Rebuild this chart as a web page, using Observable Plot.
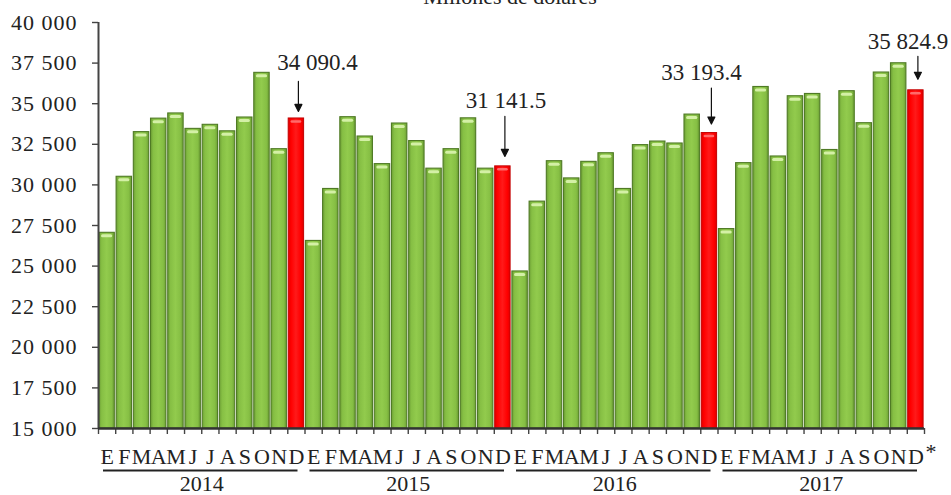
<!DOCTYPE html>
<html>
<head>
<meta charset="utf-8">
<script src="https://cdn.jsdelivr.net/npm/d3@7"></script>
<script src="https://cdn.jsdelivr.net/npm/@observablehq/plot@0.6"></script>
<style>
  html, body { margin: 0; padding: 0; background: #fff; overflow: hidden; }
  #wrap { position: relative; width: 951px; height: 495px; }
  #title { position: absolute; top: -14px; left: 510px; transform: translateX(-50%);
           font-family: "Liberation Serif", "DejaVu Serif", serif; font-size: 22px; line-height: 22px;
           color: #222; white-space: nowrap; z-index: 2; }
  g[aria-label="y-axis tick label"] text { letter-spacing: 1px; }
</style>
</head>
<body>
<div id="wrap"><div id="title">Millones de dólares</div><div id="chart"></div></div>
<script>
const months = ["E","F","M","A","M","J","J","A","S","O","N","D"];
const years = ["2014","2015","2016","2017"];
const values2014 = [27050, 30500, 33250, 34080, 34400, 33450, 33700, 33300, 34150, 36900, 32200, 34090.4];
const values2015 = [26550, 29750, 34170, 32980, 31280, 33780, 32700, 31000, 32200, 34100, 31000, 31141.5];
const values2016 = [24670, 28970, 31460, 30400, 31420, 31950, 29750, 32450, 32670, 32550, 34330, 33193.4];
const values2017 = [27280, 31340, 36030, 31750, 35460, 35600, 32150, 35770, 33800, 36920, 37490, 35824.9];
const yTicks = [15000, 17500, 20000, 22500, 25000, 27500, 30000, 32500, 35000, 37500, 40000];
const footnoteMark = "*";

const series = [values2014, values2015, values2016, values2017];
const rows = [];
series.forEach((vals, yi) => vals.forEach((v, mi) => rows.push({
  i: yi * 12 + mi, year: years[yi], month: months[mi], value: v, red: mi === 11
})));
const yearRows = years.map((y, k) => ({year: y, start: k * 12, end: k * 12 + 12}));

// annotation placement (pixels): label dx, label gap above bar, arrow length, arrow tip gap
const annLayout = [
  {dx: 21, gap: 48, len: 30, tip: 7},
  {dx: 3, gap: 58, len: 40, tip: 10},
  {dx: -8, gap: 53, len: 36, tip: 9},
  {dx: -8, gap: 41, len: 23, tip: 11}
];
const reds = rows.filter(d => d.red);

const loc = d3.formatLocale({decimal: ".", thousands: " ", grouping: [3], currency: ["", ""]});
const fmtInt = loc.format(",");
const fmt1 = loc.format(",.1f");

const arrowShape = {
  draw(ctx, l) {
    ctx.moveTo(0, 0);
    ctx.lineTo(0, -l + 6);
    ctx.moveTo(-3.5, -l + 7);
    ctx.lineTo(0, -l);
    ctx.lineTo(3.5, -l + 7);
    ctx.closePath();
  }
};

const base = 15000;
const annMarks = [];
reds.forEach((d, k) => {
  const L = annLayout[k];
  annMarks.push(Plot.text([d], {x: r => r.i + 0.5, y: "value", text: r => fmt1(r.value),
    dx: L.dx, dy: -L.gap, lineAnchor: "bottom", fontSize: 23, fill: "#222"}));
  annMarks.push(Plot.vector([d], {x: r => r.i + 0.5, y: "value", length: L.len, rotate: 180,
    anchor: "end", shape: arrowShape, dx: 2, dy: -L.tip, stroke: "#111", fill: "#111", strokeWidth: 1.2}));
});

const plot = Plot.plot({
  width: 951,
  height: 495,
  marginLeft: 98,
  marginRight: 27,
  marginTop: 22,
  marginBottom: 67,
  style: {fontFamily: "'Liberation Serif', 'DejaVu Serif', serif", fontSize: "22px", color: "#222", background: "#fff"},
  x: {type: "linear", domain: [0, 48]},
  y: {domain: [15000, 40000]},
  marks: [
    Plot.rectY(rows.filter(d => !d.red), {x1: "i", x2: d => d.i + 1, y1: () => base, y2: "value",
      insetLeft: 0.9, insetRight: 0.9, fill: "url(#gGreen)", stroke: "#4f7a25", strokeWidth: 1.1}),
    Plot.rectY(rows.filter(d => d.red), {x1: "i", x2: d => d.i + 1, y1: () => base, y2: "value",
      insetLeft: 0.9, insetRight: 0.9, fill: "url(#gRed)", stroke: "#c40000", strokeWidth: 1}),
    Plot.ruleY(rows.filter(d => !d.red), {y: "value", x1: "i", x2: d => d.i + 1, insetLeft: 4.5, insetRight: 4.5,
      dy: 3, stroke: "#d4f0a6", strokeWidth: 3, strokeLinecap: "round"}),
    Plot.ruleY(rows.filter(d => d.red), {y: "value", x1: "i", x2: d => d.i + 1, insetLeft: 4.5, insetRight: 4.5,
      dy: 3, stroke: "#ff6a6a", strokeWidth: 2.5, strokeLinecap: "round"}),
    Plot.axisY({ticks: yTicks, tickFormat: fmtInt, tickSize: 6, tickPadding: 15, label: null,
      stroke: "#444", strokeWidth: 1.4}),
    Plot.axisX({ticks: d3.range(49), tickFormat: () => "", tickSize: 6, label: null,
      stroke: "#444", strokeWidth: 1.4}),
    Plot.ruleX([0], {stroke: "#444", strokeWidth: 2}),
    Plot.ruleY([base], {stroke: "#333", strokeWidth: 2.5}),
    Plot.text(rows, {x: d => d.i + 0.5, y: () => base, text: "month", dy: 35, lineAnchor: "bottom", fill: "#222"}),
    Plot.text([footnoteMark], {x: () => 48, y: () => base, text: d => d, dx: 1, dy: 30,
      textAnchor: "start", lineAnchor: "bottom", fill: "#222"}),
    Plot.ruleY(yearRows, {y: () => base, x1: "start", x2: "end", insetLeft: 5, insetRight: 7, dy: 42,
      stroke: "#222", strokeWidth: 2}),
    Plot.text(yearRows, {x: d => d.start + 6, y: () => base, text: "year", dy: 62, lineAnchor: "bottom", fill: "#222"}),
    ...annMarks
  ]
});

const svg = d3.select(plot.tagName.toLowerCase() === "svg" ? plot : plot.querySelector("svg"));
const defs = svg.insert("defs", ":first-child");
function grad(id, stops) {
  const g = defs.append("linearGradient").attr("id", id).attr("x1", "0").attr("x2", "1").attr("y1", "0").attr("y2", "0");
  stops.forEach(([o, c]) => g.append("stop").attr("offset", o).attr("stop-color", c));
}
grad("gGreen", [[0, "#6d9f35"], [0.18, "#86bf44"], [0.5, "#92cb4d"], [0.82, "#86bf44"], [1, "#6d9f35"]]);
grad("gRed", [[0, "#dd0000"], [0.18, "#ff0000"], [0.5, "#ff1a1a"], [0.82, "#ff0000"], [1, "#dd0000"]]);

document.getElementById("chart").appendChild(plot);
</script>
</body>
</html>
